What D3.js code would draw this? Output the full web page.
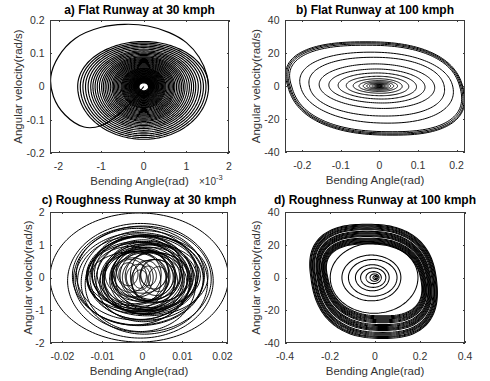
<!DOCTYPE html>
<html><head><meta charset="utf-8">
<script src="https://cdn.jsdelivr.net/npm/d3@7"></script>
<style>body{margin:0;background:#fff}text{font-family:"Liberation Sans",Arial,sans-serif}</style>
</head><body>
<svg id="chart" width="490" height="381"></svg>
<script>
// ---------- tick values ----------
const aTicksX = [-2, -1, 0, 1, 2];            // x 10^-3
const aTicksY = [-0.2, -0.1, 0, 0.1, 0.2];
const bTicksX = [-0.2, -0.1, 0, 0.1, 0.2];
const bTicksY = [-40, -20, 0, 20, 40];
const cTicksX = [-0.02, -0.01, 0, 0.01, 0.02];
const cTicksY = [-2, -1, 0, 1, 2];
const dTicksX = [-0.4, -0.2, 0, 0.2, 0.4];
const dTicksY = [-40, -20, 0, 20, 40];

const titles = ["a) Flat Runway at 30 kmph", "b) Flat Runway at 100 kmph",
                "c) Roughness Runway at 30 kmph", "d) Roughness Runway at 100 kmph"];

// ---------- panel a: transient (x in 1e-3 rad) ----------
const aTransX = [0, -0.25, -0.6, -1.0, -1.4, -1.85, -2.12, -2.18, -2.0, -1.6, -1.0, -0.45, 0.1, 0.6, 1.0, 1.3, 1.48, 1.52];
const aTransV = [0, -0.04, -0.085, -0.118, -0.122, -0.085, -0.03, 0.03, 0.09, 0.145, 0.178, 0.187, 0.182, 0.162, 0.132, 0.088, 0.035, -0.01];
// panel a: decaying spiral loop amplitudes
const aXAmp = [1.52,1.46,1.40,1.34,1.28,1.22,1.17,1.12,1.07,1.02,0.97,0.93,0.89,0.85,0.81,0.77,0.73,0.70,0.67,0.64,0.61,0.58,0.55,0.52,0.50,0.48,0.46,0.44,0.42,0.40,0.38,0.36,0.345,0.33,0.315,0.30,0.285,0.27,0.255,0.24,0.23,0.22,0.21,0.20,0.19,0.18,0.17,0.16,0.15,0.14,0.13,0.12,0.11];
const aVAmp = [0.147,0.142,0.137,0.132,0.127,0.122,0.117,0.113,0.109,0.105,0.101,0.097,0.094,0.091,0.088,0.085,0.082,0.079,0.076,0.073,0.070,0.067,0.064,0.061,0.059,0.057,0.055,0.053,0.051,0.049,0.047,0.045,0.043,0.041,0.039,0.037,0.035,0.033,0.031,0.029,0.028,0.027,0.026,0.025,0.024,0.022,0.021,0.020,0.018,0.017,0.016,0.014,0.012];

// ---------- panel b ----------
const bLeft   = [0.238,0.235,0.232,0.228,0.205,0.182,0.156,0.131,0.107,0.086,0.068,0.053,0.042,0.033,0.026,0.020,0.015,0.011,0.008,0.005];
const bRight  = [0.216,0.214,0.211,0.208,0.190,0.168,0.143,0.118,0.096,0.076,0.059,0.047,0.037,0.029,0.023,0.018,0.014,0.010,0.007,0.005];
const bTop    = [26.8,26.2,25.5,24.7,20.5,17.4,13.4,10.3,7.9,5.9,4.4,3.3,2.6,2.0,1.6,1.2,0.9,0.7,0.5,0.35];
const bBottom = [29.8,29.2,28.5,27.7,22.5,18.2,13.6,10.3,7.9,5.9,4.4,3.3,2.6,2.0,1.6,1.2,0.9,0.7,0.5,0.35];
const bShear  = [0.035,0.035,0.034,0.033,0.022,0.015,0.011,0.008,0.006,0.004,0.003,0,0,0,0,0,0,0,0,0];

// ---------- panel c ----------
const cCx = [-0.0008,-0.0005,0.0000,-0.0010,0.0005,-0.0015,0.0008,-0.0005,0.0010,-0.0012,0.0002,0.0015,-0.0008,0.0005,0.0020,-0.0010,0.0012,-0.0020,0.0008,0.0025,-0.0015,0.0030,-0.0025,0.0018,0.0035,-0.0030,0.0010,0.0028,-0.0010,0.0040,-0.0035,0.0015,-0.0005,0.0003,-0.0018,0.0022,
             0.0012,-0.0022,0.0006,-0.0004,0.0016,-0.0012,0.0002,0.0024,-0.0028,0.0009,-0.0006,0.0032,-0.0018,0.0014,0.0000,-0.0008];
const cCy = [0,-0.10,-0.05,0.05,-0.15,0.10,0,-0.20,0.10,0,-0.10,0.05,0.10,-0.05,0,-0.10,0.15,0,-0.05,0.05,0.10,-0.10,0,0.05,0,0.05,-0.10,0.10,0,-0.05,0.10,0.05,-0.05,0.05,-0.1,0.0,
             0.05,-0.10,0.10,0,-0.05,0.15,-0.15,0,0.05,-0.05,0.10,0,-0.10,0.05,0.20,-0.05];
const cA  = [0.0223,0.0182,0.0172,0.0165,0.0158,0.0150,0.0145,0.0138,0.0130,0.0125,0.0118,0.0112,0.0105,0.0100,0.0095,0.0090,0.0085,0.0080,0.0075,0.0068,0.0062,0.0058,0.0052,0.0048,0.0042,0.0040,0.0036,0.0032,0.0030,0.0025,0.0024,0.0020,0.0018,0.0142,0.0120,0.0098,
             0.0152,0.0140,0.0133,0.0127,0.0121,0.0114,0.0109,0.0103,0.0097,0.0091,0.0087,0.0082,0.0078,0.0070,0.0065,0.0160];
const cB  = [1.97,1.75,1.62,1.50,1.58,1.40,1.30,1.45,1.20,1.10,1.25,1.05,0.98,1.08,0.92,0.95,0.85,0.80,0.88,0.72,0.70,0.65,0.60,0.75,0.55,0.50,0.62,0.45,0.40,0.38,0.35,0.30,0.28,1.02,0.90,0.78,
             1.22,1.35,1.15,1.28,1.08,1.18,0.96,1.00,0.90,0.98,0.82,0.76,0.86,0.78,0.68,1.42];

// ---------- panel d: outer band ----------
const dLeft   = [0.285,0.281,0.278,0.273,0.270,0.266,0.263,0.257,0.254,0.251,0.248,0.244,0.241,0.238,0.232,0.229,0.226,0.223,0.220,0.217,0.213,0.210];
const dRight  = [0.272,0.269,0.266,0.262,0.259,0.256,0.252,0.247,0.244,0.241,0.238,0.235,0.232,0.229,0.224,0.221,0.218,0.215,0.212,0.209,0.205,0.202];
const dTop    = [32.5,32.0,31.4,30.8,30.3,29.7,29.2,28.2,27.7,27.1,26.6,26.0,25.5,25.0,24.0,23.5,23.0,22.5,22.0,21.5,21.0,20.5];
const dBottom = [37.2,36.6,36.0,35.3,34.7,34.1,33.5,32.3,31.7,31.1,30.5,29.9,29.3,28.7,27.6,27.0,26.4,25.8,25.2,24.6,24.0,23.4];
// panel d: inner loops
const dInCx = [-0.004,-0.016,-0.010,-0.012,-0.008,-0.006,-0.002,0.002,0.004];
const dInA  = [0.195,0.131,0.108,0.075,0.056,0.034,0.020,0.011,0.005];
const dInB  = [21.0,13.7,11.0,7.8,5.8,3.6,2.2,1.2,0.6];

// ---------- drawing ----------
const svg = d3.select("#chart");
svg.append("rect").attr("width",490).attr("height",381).attr("fill","#fff");

function loopPoints(L, n) {
  const pts = [];
  const e = L.e || 1;
  for (let i = 0; i < n; i++) {
    const th = 2 * Math.PI * i / n;
    const c = Math.cos(th), s = Math.sin(th);
    const cc = Math.sign(c) * Math.pow(Math.abs(c), e);
    const ss = Math.sign(s) * Math.pow(Math.abs(s), e);
    const x = (L.cx || 0) + (cc >= 0 ? L.ar : L.al) * cc - (L.k || 0) * ss;
    const y = (L.cy || 0) + (ss >= 0 ? L.bt : L.bb) * ss;
    pts.push([x, y]);
  }
  return pts;
}

const panels = [
  { box:{l:50,r:229,t:20,b:153}, xd:[-2.2,2], yd:[-0.2,0.2], tx:aTicksX, ty:aTicksY, ylabX:17.5, sw:1.15, tOff:6,
    loops: aXAmp.map((a,i)=>({al:a*1.02, ar:a, bt:aVAmp[i]*0.92, bb:aVAmp[i]*1.08})),
    trans: aTransX.map((x,i)=>[x,aTransV[i]]) },
  { box:{l:285,r:465,t:20,b:152}, xd:[-0.245,0.222], yd:[-40,40], tx:bTicksX, ty:bTicksY, ylabX:256, sw:1.0, tOff:6,
    loops: bLeft.map((a,i)=>({al:a, ar:bRight[i], bt:bTop[i], bb:bBottom[i], k:bShear[i], e: i<4?0.82:(i<6?0.92:1)})) },
  { box:{l:50,r:228,t:212,b:343}, xd:[-0.0231,0.0214], yd:[-2,2], tx:cTicksX, ty:cTicksY, ylabX:27.5, sw:1.0, tOff:8,
    loops: cA.map((a,i)=>({cx:cCx[i], cy:cCy[i], al:a, ar:a, bt:cB[i], bb:cB[i]})) },
  { box:{l:285,r:465,t:212,b:343}, xd:[-0.4,0.4], yd:[-40,40], tx:dTicksX, ty:dTicksY, ylabX:256, sw:1.05, tOff:8,
    loops: dLeft.map((a,i)=>({al:a, ar:dRight[i], bt:dTop[i], bb:dBottom[i], k:0.035, e:0.8}))
      .concat(dInA.map((a,i)=>({cx:dInCx[i], al:a, ar:a, bt:dInB[i], bb:dInB[i]*1.04}))) }
];

panels.forEach((p, pi) => {
  const B = p.box;
  const x = d3.scaleLinear().domain(p.xd).range([B.l, B.r]);
  const y = d3.scaleLinear().domain(p.yd).range([B.b, B.t]);
  const g = svg.append("g");
  const clipId = "clip" + pi;
  g.append("clipPath").attr("id", clipId).append("rect")
    .attr("x", B.l).attr("y", B.t).attr("width", B.r - B.l).attr("height", B.b - B.t);
  const pg = g.append("g").attr("clip-path", `url(#${clipId})`);
  const line = d3.line().x(d => x(d[0])).y(d => y(d[1]));
  const closed = d3.line().x(d => x(d[0])).y(d => y(d[1])).curve(d3.curveLinearClosed);
  p.loops.forEach(L => {
    pg.append("path").attr("d", closed(loopPoints(L, 160)))
      .attr("fill", "none").attr("stroke", "#000").attr("stroke-width", p.sw);
  });
  if (p.trans) {
    pg.append("path").attr("d", line.curve(d3.curveCatmullRom)(p.trans))
      .attr("fill", "none").attr("stroke", "#000").attr("stroke-width", p.sw);
  }
  // box
  g.append("rect").attr("x", B.l + 0.5).attr("y", B.t + 0.5)
    .attr("width", B.r - B.l - 1).attr("height", B.b - B.t - 1)
    .attr("fill", "none").attr("stroke", "#3a3a3a").attr("stroke-width", 1);
  // ticks (inside, both sides)
  const tl = 2;
  p.tx.forEach(v => {
    const xx = Math.round(x(v)) + 0.5;
    g.append("line").attr("x1", xx).attr("x2", xx).attr("y1", B.b).attr("y2", B.b - tl).attr("stroke", "#3a3a3a");
    g.append("line").attr("x1", xx).attr("x2", xx).attr("y1", B.t).attr("y2", B.t + tl).attr("stroke", "#3a3a3a");
    g.append("text").attr("x", x(v)).attr("y", B.b + 16.5).attr("text-anchor", "middle")
      .attr("font-size", 10.5).attr("fill", "#333").text(v);
  });
  p.ty.forEach(v => {
    const yy = Math.round(y(v)) + 0.5;
    g.append("line").attr("x1", B.l).attr("x2", B.l + tl).attr("y1", yy).attr("y2", yy).attr("stroke", "#3a3a3a");
    g.append("line").attr("x1", B.r).attr("x2", B.r - tl).attr("y1", yy).attr("y2", yy).attr("stroke", "#3a3a3a");
    g.append("text").attr("x", B.l - 5.5).attr("y", y(v) + 3.8).attr("text-anchor", "end")
      .attr("font-size", 10.5).attr("fill", "#333").text(v);
  });
  // title
  g.append("text").attr("x", (B.l + B.r) / 2).attr("y", B.t - p.tOff).attr("text-anchor", "middle")
    .attr("font-size", 12).attr("font-weight", "bold").attr("fill", "#000").text(titles[pi]);
  // x label
  g.append("text").attr("x", (B.l + B.r) / 2).attr("y", B.b + 32).attr("text-anchor", "middle")
    .attr("font-size", 11.5).attr("fill", "#333").text("Bending Angle(rad)");
  // y label
  g.append("text").attr("transform", `translate(${p.ylabX},${(B.t + B.b) / 2}) rotate(-90)`)
    .attr("text-anchor", "middle").attr("dominant-baseline", "central")
    .attr("font-size", 11.5).attr("fill", "#333").text("Angular velocity(rad/s)");
  if (pi === 0) {
    const t = g.append("text").attr("x", 199).attr("y", B.b + 32).attr("font-size", 10).attr("fill", "#333");
    t.append("tspan").text("\u00d710");
    t.append("tspan").attr("dy", -5).attr("font-size", 7.5).text("-3");
  }
});
</script>
</body></html>
